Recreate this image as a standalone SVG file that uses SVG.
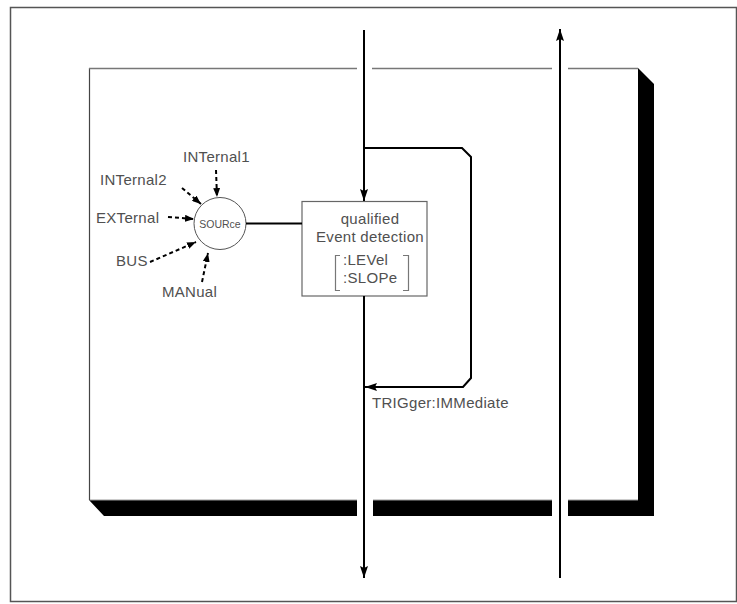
<svg xmlns="http://www.w3.org/2000/svg" width="737" height="604" viewBox="0 0 737 604">
<style>
.t{font-family:"Liberation Sans",Arial,sans-serif;font-size:15px;fill:#505050;letter-spacing:0.3px}
.ts{font-family:"Liberation Sans",Arial,sans-serif;font-size:10.5px;fill:#505050}
.ln{stroke:#000;stroke-width:2;fill:none}
.ds{stroke:#000;stroke-width:2;fill:none;stroke-dasharray:4 3}
.gray{stroke:#777;stroke-width:1.5;fill:none}
</style>
<defs>
<marker id="ah" viewBox="0 0 12 8" refX="12" refY="4" markerWidth="12" markerHeight="8" markerUnits="userSpaceOnUse" orient="auto">
<path d="M0,0 L12,4 L0,8 L2,4 Z" fill="#000"/>
</marker>
<marker id="as" viewBox="0 0 9 7" refX="9" refY="3.5" markerWidth="9" markerHeight="7" markerUnits="userSpaceOnUse" orient="auto">
<path d="M0,0 L9,3.5 L0,7 Z" fill="#000"/>
</marker>
</defs>
<rect width="737" height="604" fill="#fff"/>
<rect x="10.5" y="7.5" width="726" height="594" fill="none" stroke="#555" stroke-width="1.5"/>
<g id="frame">
<path d="M638,68 L654,84 L654,516 L104,516 L89,500 L638,500 Z" fill="#000"/>
<rect x="357" y="499" width="16" height="19" fill="#fff"/>
<rect x="552" y="499" width="16" height="19" fill="#fff"/>
<line x1="89" y1="500" x2="357" y2="500" stroke="#999" stroke-width="1"/>
<line x1="373" y1="500" x2="552" y2="500" stroke="#999" stroke-width="1"/>
<line x1="568" y1="500" x2="638" y2="500" stroke="#999" stroke-width="1"/>
<line x1="89.5" y1="68" x2="89.5" y2="500" stroke="#444" stroke-width="1.2"/>
<line x1="89" y1="68.5" x2="357" y2="68.5" class="gray"/>
<line x1="372" y1="68.5" x2="552" y2="68.5" class="gray"/>
<line x1="568" y1="68.5" x2="638" y2="68.5" class="gray"/>
</g>
<g id="source">
<circle cx="220" cy="223.5" r="26" fill="#fff" stroke="#555" stroke-width="1"/>
<text class="ts" x="220" y="227.5" text-anchor="middle">SOURce</text>
</g>
<g id="qualifier">
<rect x="302" y="201.5" width="125" height="94.5" fill="#fff" stroke="#666" stroke-width="1.2"/>
<text class="t" x="370" y="224" text-anchor="middle">qualified</text>
<text class="t" x="370" y="242" text-anchor="middle">Event detection</text>
<text class="t" x="343" y="265">:LEVel</text>
<text class="t" x="343" y="283">:SLOPe</text>
<path d="M340,255.5 L335.5,255.5 L335.5,290.5 L340,290.5" fill="none" stroke="#777" stroke-width="1.2"/>
<path d="M403,255.5 L408.5,255.5 L408.5,290.5 L403,290.5" fill="none" stroke="#777" stroke-width="1.2"/>
</g>
<g id="labels">
<text class="t" x="183" y="162">INTernal1</text>
<text class="t" x="100" y="185">INTernal2</text>
<text class="t" x="96" y="223">EXTernal</text>
<text class="t" x="116" y="266">BUS</text>
<text class="t" x="162" y="297">MANual</text>
<text class="t" x="372" y="408">TRIGger:IMMediate</text>
</g>
<g id="connectors">
<line class="ds" x1="216" y1="170" x2="217" y2="197" marker-end="url(#as)"/>
<line class="ds" x1="182" y1="188" x2="201" y2="204" marker-end="url(#as)"/>
<line class="ds" x1="168" y1="217" x2="194" y2="219" marker-end="url(#as)"/>
<line class="ds" x1="150" y1="262" x2="196" y2="242" marker-end="url(#as)"/>
<line class="ds" x1="202" y1="282" x2="208" y2="253" marker-end="url(#as)"/>
<line class="ln" x1="246" y1="223.5" x2="302" y2="223.5"/>
<line class="ln" x1="364" y1="30" x2="364" y2="201" marker-end="url(#ah)"/>
<line class="ln" x1="364" y1="296" x2="364" y2="578" marker-end="url(#ah)"/>
<line class="ln" x1="560" y1="578" x2="560" y2="29" marker-end="url(#ah)"/>
<path class="ln" d="M364,148 L462,148 L471,157 L471,378 L463,387 L365,387" marker-end="url(#ah)"/>
</g>
</svg>
